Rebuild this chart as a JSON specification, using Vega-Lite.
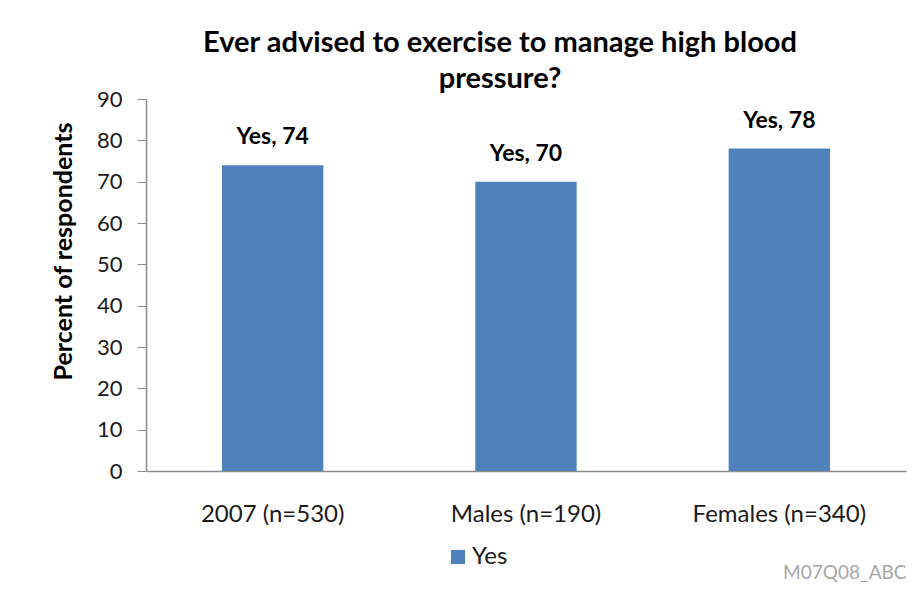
{
  "$schema": "https://vega.github.io/schema/vega-lite/v6.json",
  "autosize": "none",
  "width": 760,
  "height": 372,
  "padding": {"left": 146, "top": 99, "right": 14, "bottom": 118},
  "background": "white",
  "config": {
    "view": {"stroke": null},
    "font": "Lato",
    "axis": {"labelFont": "Lato", "titleFont": "Lato", "grid": false}
  },
  "title": {
    "text": ["Ever advised to exercise to manage high blood", "pressure?"],
    "font": "Lato",
    "fontSize": 29,
    "fontWeight": "bold",
    "color": "#000000",
    "anchor": "middle",
    "frame": "group",
    "dx": -26,
    "lineHeight": 36,
    "offset": -6
  },
  "data": {
    "values": [
      {"group": "2007 (n=530)", "response": "Yes", "percent": 74, "label": "Yes, 74"},
      {"group": "Males (n=190)", "response": "Yes", "percent": 70, "label": "Yes, 70"},
      {"group": "Females (n=340)", "response": "Yes", "percent": 78, "label": "Yes, 78"}
    ]
  },
  "encoding": {
    "x": {
      "field": "group",
      "type": "nominal",
      "sort": null,
      "scale": {"paddingInner": 0.6, "paddingOuter": 0.3},
      "axis": {
        "title": "M07Q08_ABC",
        "titleAnchor": "end",
        "titleAlign": "right",
        "titleColor": "#a6a6a6",
        "titleFontSize": 19,
        "titleFontWeight": "normal",
        "titlePadding": 37,
        "labelAngle": 0,
        "labelFontSize": 24,
        "labelColor": "#1a1a1a",
        "labelPadding": 31,
        "ticks": false,
        "domainColor": "#8c8c8c",
        "domainWidth": 1.5
      }
    },
    "y": {
      "field": "percent",
      "type": "quantitative",
      "scale": {"domain": [0, 90], "nice": false},
      "axis": {
        "title": "Percent of respondents",
        "titleFontSize": 25,
        "titleFontWeight": "bold",
        "titleColor": "#000000",
        "titleX": -83,
        "titleY": 152,
        "titleBaseline": "middle",
        "values": [0, 10, 20, 30, 40, 50, 60, 70, 80, 90],
        "labelFontSize": 22,
        "labelColor": "#1a1a1a",
        "labelPadding": 15,
        "tickSize": 9,
        "tickColor": "#8c8c8c",
        "domainColor": "#8c8c8c",
        "domainWidth": 1.5
      }
    }
  },
  "layer": [
    {
      "mark": {"type": "bar", "color": "#4F81BD"},
      "encoding": {
        "color": {
          "field": "response",
          "type": "nominal",
          "scale": {"range": ["#4F81BD"]},
          "legend": {
            "title": null,
            "orient": "none",
            "legendX": 300,
            "legendY": 446,
            "symbolType": "square",
            "symbolSize": 200,
            "symbolStrokeWidth": 0,
            "symbolOpacity": 1,
            "labelFontSize": 24,
            "labelColor": "#1a1a1a",
            "labelOffset": 2
          }
        }
      }
    },
    {
      "mark": {"type": "text", "baseline": "bottom", "dy": -16, "fontSize": 23, "fontWeight": "bold", "color": "#000000"},
      "encoding": {
        "text": {"field": "label"}
      }
    }
  ]
}
